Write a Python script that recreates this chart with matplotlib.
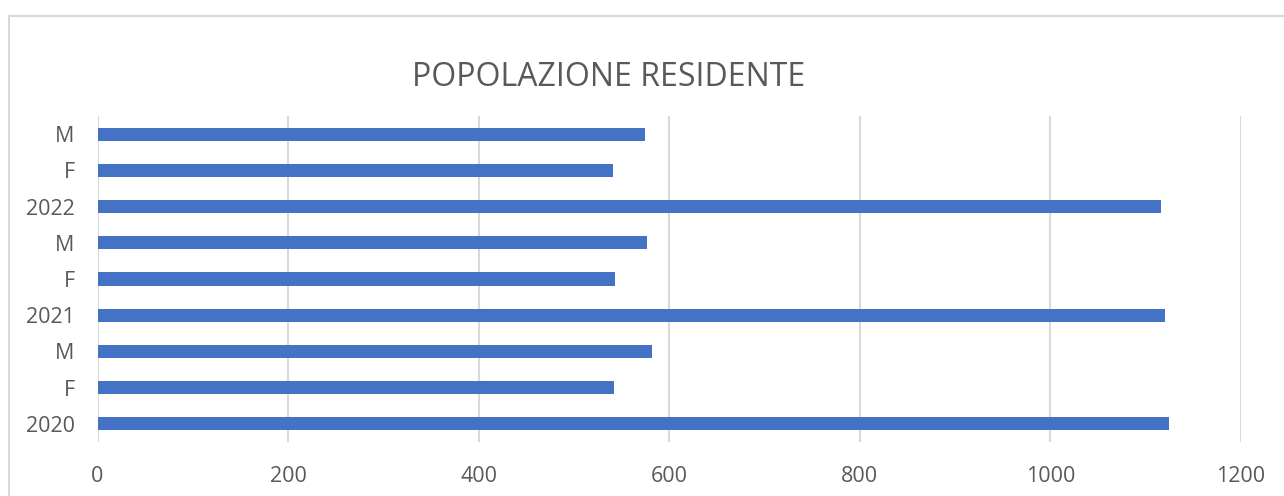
import matplotlib.pyplot as plt
from matplotlib.patches import Rectangle

labels = ["2020", "F", "M", "2021", "F", "M", "2022", "F", "M"]
values = [1124, 542, 582, 1120, 543, 577, 1116, 541, 575]
xticks = [0, 200, 400, 600, 800, 1000, 1200]

plt.rcParams['font.family'] = ['Open Sans', 'DejaVu Sans']

W, H = 1284, 496
fig = plt.figure(figsize=(W / 100, H / 100), dpi=100)
ax = fig.add_axes([97.5 / W, 1 - 442 / H, (1241 - 97.5) / W, (442 - 116) / H])

# chart frame (light gray)
fig.patches.append(Rectangle((9 / W, -0.1), 1.2, 1 - 16 / H + 0.1, transform=fig.transFigure,
                             fill=False, edgecolor="#d9d9d9", linewidth=1.5))

ypos = list(range(len(labels)))
ax.barh(ypos, values, height=0.36, color="#4472c4", zorder=3)

ax.set_xlim(0, 1200)
ax.set_ylim(-0.5, len(labels) - 0.5)
ax.set_xticks(xticks)
ax.set_yticks(ypos)
ax.set_yticklabels(labels)
ax.xaxis.grid(True, color="#d9d9d9", linewidth=1.5, zorder=0)
for s in ax.spines.values():
    s.set_visible(False)
ax.tick_params(axis="both", length=0, labelsize=15.5, labelcolor="#595959")
ax.tick_params(axis="x", pad=17)
ax.tick_params(axis="y", pad=16.5)

fig.text(609 / W, 1 - 78 / H, "POPOLAZIONE RESIDENTE", ha="center", va="center",
         fontsize=23, color="#595959")

fig.savefig("out.png", dpi=100)
